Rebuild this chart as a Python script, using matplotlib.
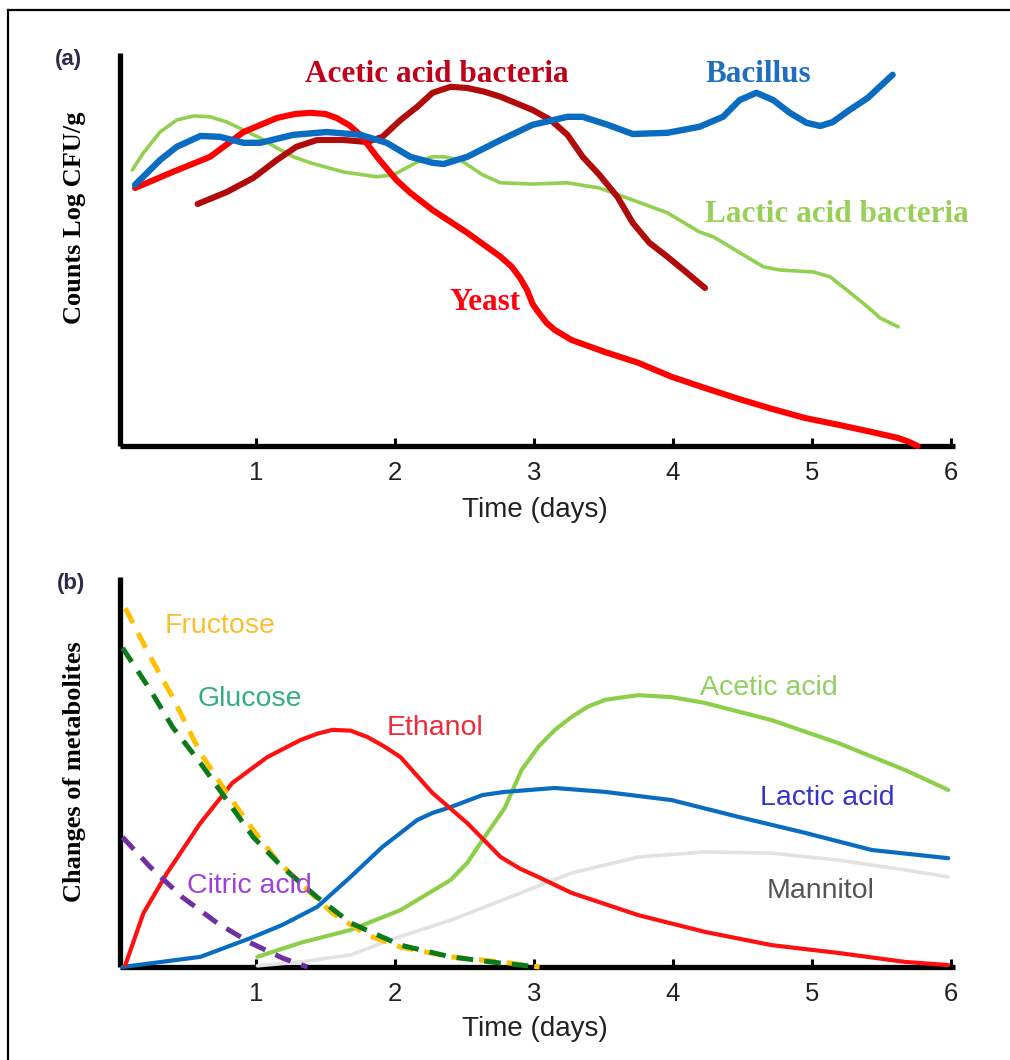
import matplotlib
matplotlib.use("Agg")
import matplotlib.pyplot as plt

plt.rcParams['font.family'] = ['Liberation Sans', 'DejaVu Sans']
plt.rcParams['lines.scale_dashes'] = False

# ---------------- Panel (a): microbial counts (Log CFU/g) ----------------
yeast_t = [0.13, 0.40, 0.67, 0.91, 1.15, 1.28, 1.39, 1.50, 1.58, 1.67, 1.75, 1.87, 2.01, 2.11, 2.27, 2.52,
           2.76, 2.84, 2.90, 2.95, 2.99, 3.03, 3.09, 3.15, 3.27, 3.51, 3.75, 3.99, 4.23, 4.47, 4.71, 4.95,
           5.19, 5.43, 5.62, 5.70, 5.76]
yeast_v = [6.45, 6.85, 7.23, 7.85, 8.20, 8.30, 8.33, 8.30, 8.20, 8.02, 7.78, 7.23, 6.65, 6.33, 5.90, 5.33,
           4.73, 4.48, 4.20, 3.90, 3.55, 3.35, 3.08, 2.90, 2.65, 2.35, 2.08, 1.73, 1.45, 1.18, 0.93, 0.70,
           0.53, 0.35, 0.20, 0.10, 0.0]

bacillus_t = [0.13, 0.31, 0.43, 0.60, 0.74, 0.91, 1.03, 1.27, 1.51, 1.75, 1.94, 2.11, 2.27, 2.35, 2.52, 2.76,
              2.99, 3.24, 3.35, 3.53, 3.71, 3.96, 4.19, 4.36, 4.48, 4.60, 4.72, 4.84, 4.96, 5.06, 5.15, 5.27,
              5.40, 5.58]
bacillus_v = [6.53, 7.15, 7.48, 7.75, 7.73, 7.58, 7.58, 7.78, 7.85, 7.78, 7.58, 7.23, 7.08, 7.05, 7.23, 7.65,
              8.03, 8.23, 8.23, 8.03, 7.80, 7.83, 7.98, 8.23, 8.65, 8.83, 8.65, 8.33, 8.08, 8.00, 8.10, 8.40,
              8.70, 9.28]

lab_t = [0.11, 0.19, 0.31, 0.43, 0.55, 0.67, 0.79, 0.91, 1.03, 1.15, 1.27, 1.39, 1.63, 1.87, 1.99, 2.16,
         2.27, 2.35, 2.47, 2.63, 2.76, 2.99, 3.24, 3.47, 3.71, 3.96, 4.19, 4.29, 4.53, 4.65, 4.77, 5.01,
         5.13, 5.25, 5.40, 5.49, 5.62]
lab_v = [6.90, 7.33, 7.85, 8.15, 8.25, 8.23, 8.10, 7.90, 7.70, 7.45, 7.23, 7.08, 6.85, 6.73, 6.78, 7.10,
         7.23, 7.23, 7.15, 6.78, 6.58, 6.55, 6.58, 6.45, 6.15, 5.83, 5.35, 5.23, 4.73, 4.48, 4.40, 4.35,
         4.23, 3.90, 3.48, 3.20, 2.98]

aab_t = [0.58, 0.79, 0.98, 1.15, 1.29, 1.44, 1.63, 1.80, 1.91, 2.04, 2.16, 2.27, 2.40, 2.52, 2.64, 2.76,
         2.99, 3.12, 3.24, 3.35, 3.47, 3.60, 3.71, 3.83, 3.96, 4.10, 4.23]
aab_v = [6.05, 6.35, 6.70, 7.15, 7.48, 7.65, 7.65, 7.60, 7.73, 8.15, 8.48, 8.83, 8.98, 8.95, 8.86, 8.73,
         8.40, 8.15, 7.78, 7.23, 6.78, 6.23, 5.58, 5.08, 4.73, 4.33, 3.95]

# ---------------- Panel (b): metabolites ----------------
fructose_t = [0.06, 0.24, 0.40, 0.60, 0.79, 0.98, 1.15, 1.32, 1.55, 1.80, 2.04, 2.40, 2.76, 3.04]
fructose_v = [9.20, 7.95, 6.92, 5.49, 4.46, 3.51, 2.74, 2.15, 1.38, 0.82, 0.51, 0.26, 0.13, 0.0]

glucose_t = [0.04, 0.24, 0.40, 0.60, 0.79, 0.98, 1.19, 1.44, 1.68, 2.04, 2.40, 2.76, 3.04]
glucose_v = [8.18, 7.10, 6.15, 5.23, 4.28, 3.33, 2.56, 1.79, 1.13, 0.56, 0.26, 0.10, 0.0]

citric_t = [0.04, 0.24, 0.47, 0.72, 0.96, 1.19, 1.37]
citric_v = [3.33, 2.56, 1.79, 1.13, 0.62, 0.23, 0.0]

ethanol_t = [0.06, 0.19, 0.36, 0.60, 0.83, 1.08, 1.32, 1.44, 1.55, 1.68, 1.80, 1.92, 2.04, 2.27, 2.52,
             2.76, 2.90, 3.03, 3.27, 3.75, 4.23, 4.71, 5.19, 5.67, 5.98]
ethanol_v = [0.05, 1.38, 2.41, 3.69, 4.72, 5.38, 5.82, 5.98, 6.08, 6.06, 5.90, 5.66, 5.38, 4.46, 3.69,
             2.82, 2.52, 2.31, 1.90, 1.33, 0.90, 0.56, 0.36, 0.13, 0.05]

lactic_t = [0.04, 0.60, 0.96, 1.19, 1.44, 1.68, 1.91, 2.16, 2.27, 2.40, 2.63, 2.79, 3.15, 3.51, 3.99, 4.47,
            4.95, 5.43, 5.98]
lactic_v = [0.0, 0.26, 0.74, 1.08, 1.54, 2.31, 3.08, 3.77, 3.95, 4.10, 4.41, 4.49, 4.59, 4.49, 4.28, 3.85,
            3.44, 3.00, 2.79]

acetic_t = [1.01, 1.32, 1.68, 2.04, 2.40, 2.52, 2.63, 2.79, 2.91, 3.03, 3.15, 3.27, 3.39, 3.51, 3.75, 3.99,
            4.23, 4.71, 5.19, 5.67, 5.98]
acetic_v = [0.26, 0.62, 0.95, 1.46, 2.23, 2.67, 3.26, 4.08, 5.05, 5.64, 6.08, 6.41, 6.68, 6.85, 6.97, 6.92,
            6.77, 6.33, 5.74, 5.05, 4.54]

mannitol_t = [1.01, 1.32, 1.68, 1.96, 2.40, 2.79, 3.27, 3.75, 4.23, 4.71, 5.19, 5.67, 5.98]
mannitol_v = [0.03, 0.13, 0.31, 0.69, 1.20, 1.74, 2.41, 2.82, 2.95, 2.92, 2.74, 2.49, 2.31]

days = [1, 2, 3, 4, 5, 6]
day_labels = ['1', '2', '3', '4', '5', '6']

W, H = 1010, 1060
fig = plt.figure(figsize=(W / 100, H / 100), dpi=100)


def fx(px):
    return px / W


def fy(py):
    return 1 - py / H


def make_axes(top_px, bottom_px, ymax):
    left_px, right_px = 120, 955
    ax = fig.add_axes([fx(left_px), fy(bottom_px), (right_px - left_px) / W, (bottom_px - top_px) / H])
    ax.set_xlim((left_px - 117) / 139, (right_px - 117) / 139)
    ax.set_ylim(0, ymax)
    for s in ['top', 'right']:
        ax.spines[s].set_visible(False)
    for s in ['left', 'bottom']:
        ax.spines[s].set_linewidth(3.8)
        ax.spines[s].set_color('black')
        ax.spines[s].set_capstyle('butt')
    ax.set_xticks(days)
    ax.set_xticklabels(day_labels)
    ax.set_yticks([])
    ax.tick_params(axis='x', direction='in', length=6, width=2.2, labelsize=18.5, pad=11,
                   labelcolor='#222222', color='black')
    ax.set_facecolor('none')
    return ax


# border lines (top and left)
fig.add_artist(plt.Line2D([fx(8), fx(1010)], [fy(10), fy(10)], color='black', lw=1.6))
fig.add_artist(plt.Line2D([fx(8), fx(8)], [fy(10), fy(1060)], color='black', lw=1.6))

# ----- Panel (a) -----
axa = make_axes(53, 446, (446 - 53) / 40)
kw = dict(solid_capstyle='round', solid_joinstyle='round', clip_on=False, zorder=3)
axa.plot(lab_t, lab_v, color='#92d050', lw=2.6, **kw)
axa.plot(aab_t, aab_v, color='#b00a0a', lw=4.4, **kw)
axa.plot(yeast_t, yeast_v, color='#ff0000', lw=4.4, **kw)
axa.plot(bacillus_t, bacillus_v, color='#0a6cc0', lw=4.6, **kw)

serif = ['Liberation Serif', 'DejaVu Serif']
fig.text(fx(55), fy(59), '(a)', fontsize=16, fontweight='bold', color='#2b2b4a', va='center', ha='left')
fig.text(fx(305), fy(75), 'Acetic acid bacteria', family=serif, fontsize=22.5, fontweight='bold',
         color='#c0001a', va='center', ha='left')
fig.text(fx(705), fy(74), 'Bacillus', family=serif, fontsize=22.5, fontweight='bold',
         color='#1f6fc0', va='center', ha='left')
fig.text(fx(705), fy(214), 'Lactic acid bacteria', family=serif, fontsize=22.5, fontweight='bold',
         color='#98d058', va='center', ha='left')
fig.text(fx(449), fy(303), 'Yeast', family=serif, fontsize=22.5, fontweight='bold',
         color='#ff0010', va='center', ha='left')
fig.text(fx(75), fy(218), 'Counts Log CFU/g', family=serif, fontsize=19, fontweight='bold',
         color='black', va='center', ha='center', rotation=90)
fig.text(fx(535), fy(510), 'Time (days)', fontsize=20, color='#222222', va='center', ha='center')

# ----- Panel (b) -----
axb = make_axes(577, 967, 10)
skw = dict(solid_capstyle='round', solid_joinstyle='round', clip_on=False, zorder=3)
dkw = dict(clip_on=False, zorder=3, dash_capstyle='butt', dash_joinstyle='round')
axb.plot(mannitol_t, mannitol_v, color='#e2e2e2', lw=2.6, **skw)
axb.plot(acetic_t, acetic_v, color='#8dcf4a', lw=3.0, **skw)
axb.plot(lactic_t, lactic_v, color='#0a6cc0', lw=3.0, **skw)
axb.plot(ethanol_t, ethanol_v, color='#ff1010', lw=3.0, **skw)
axb.plot(citric_t, citric_v, color='#7030a0', lw=3.6, dashes=(12, 8), **dkw)
axb.plot(fructose_t, fructose_v, color='#ffc000', lw=3.6, dashes=(12, 8), **dkw)
axb.plot(glucose_t, glucose_v, color='#0b7a1a', lw=3.6, dashes=(12, 8), **dkw)

fig.text(fx(57), fy(584), '(b)', fontsize=16, fontweight='bold', color='#2b2b4a', va='center', ha='left')
fig.text(fx(165), fy(626), 'Fructose', fontsize=20.5, color='#f8c030', va='center', ha='left')
fig.text(fx(198), fy(699), 'Glucose', fontsize=20.5, color='#33b07a', va='center', ha='left')
fig.text(fx(387), fy(728), 'Ethanol', fontsize=20.5, color='#f02a3a', va='center', ha='left')
fig.text(fx(187), fy(886), 'Citric acid', fontsize=20.5, color='#a040d8', va='center', ha='left')
fig.text(fx(700), fy(688), 'Acetic acid', fontsize=20.5, color='#90d060', va='center', ha='left')
fig.text(fx(760), fy(798), 'Lactic acid', fontsize=20.5, color='#3535cc', va='center', ha='left')
fig.text(fx(767), fy(891), 'Mannitol', fontsize=20.5, color='#555555', va='center', ha='left')
fig.text(fx(74), fy(772), 'Changes of metabolites', family=serif, fontsize=19, fontweight='bold',
         color='black', va='center', ha='center', rotation=90)
fig.text(fx(535), fy(1029), 'Time (days)', fontsize=20, color='#222222', va='center', ha='center')

fig.savefig('out.png', dpi=100, facecolor='white')
